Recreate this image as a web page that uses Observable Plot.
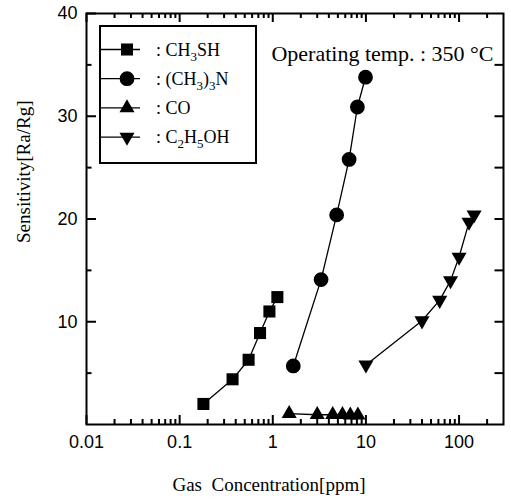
<!DOCTYPE html>
<html>
<head>
<meta charset="utf-8">
<script src="https://cdn.jsdelivr.net/npm/d3@7"></script>
<script src="https://cdn.jsdelivr.net/npm/@observablehq/plot@0.6"></script>
<style>
  html, body { margin: 0; padding: 0; background: #fff; }
</style>
</head>
<body>
<div id="chart"></div>
<script>
// ---- data ----
const seriesNames = ["CH3SH", "(CH3)3N", "CO", "C2H5OH"];
const ch3shX = [0.18, 0.37, 0.55, 0.73, 0.92, 1.12];
const ch3shY = [2.0, 4.4, 6.3, 8.9, 11.0, 12.4];
const tmaX = [1.66, 3.3, 4.85, 6.6, 8.1, 9.9];
const tmaY = [5.7, 14.1, 20.4, 25.8, 30.9, 33.8];
const coX = [1.5, 3.0, 4.4, 5.6, 6.8, 8.2];
const coY = [1.05, 0.95, 0.95, 0.95, 0.9, 0.9];
const etX = [10, 40, 62, 81, 100, 128, 145];
const etY = [5.8, 10.1, 12.1, 14.0, 16.3, 19.7, 20.4];

const xTickLabels = [0.01, 0.1, 1, 10, 100];
const xMinor = [0.02,0.03,0.04,0.05,0.06,0.07,0.08,0.09,
                0.2,0.3,0.4,0.5,0.6,0.7,0.8,0.9,
                2,3,4,5,6,7,8,9,
                20,30,40,50,60,70,80,90,200];
const yTickLabels = [10, 20, 30, 40];
const yMinor = [5, 15, 25, 35];
const yRight = [5, 10, 15, 20, 25, 30, 35];

const xTitle = "Gas\u00a0 Concentration[ppm]";
const yTitle = "Sensitivity[Ra/Rg]";
const note = "Operating temp. : 350 \u00b0C";

// ---- build table ----
const symbols = ["square", "circle", "triangle", "triangle"];
const rotations = [0, 0, 0, 180];
const xs = [ch3shX, tmaX, coX, etX];
const ys = [ch3shY, tmaY, coY, etY];
const R = {square: 6.8, circle: 7.4, triangle: 5.6};
const data = [];
seriesNames.forEach((s, i) => {
  xs[i].forEach((x, j) => data.push({series: s, x, y: ys[i][j], sym: symbols[i], rot: rotations[i], r: R[symbols[i]]}));
});

const W = 511, H = 503;
const mL = 86, mR = 8, mT = 13, mB = 79;
const iw = W - mL - mR, ih = H - mT - mB;
const xDomain = [0.01, 300], yDomain = [0, 40];
const pxPerY = ih / (yDomain[1] - yDomain[0]);
const pxPerDecade = iw / Math.log10(xDomain[1] / xDomain[0]);
const yLen = px => px / pxPerY;
const xAt = px => xDomain[0] * Math.pow(10, px / pxPerDecade);
const xAtR = px => xDomain[1] / Math.pow(10, px / pxPerDecade);

const sansFont = "'Liberation Sans', Arial, sans-serif";
const serifFont = "'Liberation Serif', 'Times New Roman', serif";
const TK = {stroke: "#000", strokeWidth: 2};

const svg = Plot.plot({
  width: W, height: H,
  marginLeft: mL, marginRight: mR, marginTop: mT, marginBottom: mB,
  x: {type: "log", domain: xDomain},
  y: {domain: yDomain},
  r: {type: "identity"},
  symbol: {domain: ["square", "circle", "triangle"], range: ["square", "circle", "triangle"]},
  marks: [
    Plot.frame({stroke: "black", strokeWidth: 2}),
    // inward ticks
    Plot.ruleX(xTickLabels, {x: d => d, y1: yDomain[0], y2: yDomain[0] + yLen(9), ...TK}),
    Plot.ruleX(xMinor, {x: d => d, y1: yDomain[0], y2: yDomain[0] + yLen(5), ...TK}),
    Plot.ruleX(xTickLabels, {x: d => d, y1: yDomain[1], y2: yDomain[1] - yLen(9), ...TK}),
    Plot.ruleX(xMinor, {x: d => d, y1: yDomain[1], y2: yDomain[1] - yLen(5), ...TK}),
    Plot.ruleY(yTickLabels, {y: d => d, x1: xDomain[0], x2: xAt(10), ...TK}),
    Plot.ruleY(yMinor, {y: d => d, x1: xDomain[0], x2: xAt(5.5), ...TK}),
    Plot.ruleY(yRight, {y: d => d, x1: xDomain[1], x2: xAtR(8.5), ...TK}),
    // tick labels
    Plot.axisX({ticks: xTickLabels, tickSize: 0, tickPadding: 11, tickFormat: d => String(d),
      label: null, fontSize: 18, fontFamily: sansFont, stroke: "black", strokeWidth: 0.35, fill: "black"}),
    Plot.axisY({ticks: yTickLabels, tickSize: 0, tickPadding: 9, tickFormat: d => String(d),
      label: null, fontSize: 18, fontFamily: sansFont, stroke: "black", strokeWidth: 0.35, fill: "black"}),
    // data
    Plot.line(data, {x: "x", y: "y", z: "series", stroke: "black", strokeWidth: 1.3}),
    Plot.dot(data, {x: "x", y: "y", symbol: "sym", rotate: "rot", r: "r", fill: "black", stroke: "none"}),
    // titles
    Plot.text([xTitle], {text: d => d, frameAnchor: "bottom", dx: -26, dy: 66,
      fontSize: 19, fontFamily: serifFont, fill: "black"}),
    Plot.text([yTitle], {text: d => d, frameAnchor: "left", dx: -63, dy: 24, rotate: -90,
      fontSize: 19, fontFamily: serifFont, fill: "black"}),
    Plot.text([note], {text: d => d, frameAnchor: "top-right", dx: -10, dy: 32, textAnchor: "end",
      fontSize: 22, fontFamily: serifFont, fill: "black"})
  ]
});

// ---- legend ----
const legendLabels = [
  [[": CH", 0], ["3", 1], ["SH", 0]],
  [[": (CH", 0], ["3", 1], [")", 0], ["3", 1], ["N", 0]],
  [[": CO", 0]],
  [[": C", 0], ["2", 1], ["H", 0], ["5", 1], ["OH", 0]]
];
const g = d3.select(svg).append("g");
const bx = 100, by = 26, bw = 156, bh = 137;
g.append("rect").attr("x", bx).attr("y", by).attr("width", bw).attr("height", bh)
  .attr("fill", "white").attr("stroke", "black").attr("stroke-width", 2);
seriesNames.forEach((s, i) => {
  const cy = 49.5 + i * 29.2;
  g.append("line").attr("x1", bx).attr("x2", 140).attr("y1", cy).attr("y2", cy)
    .attr("stroke", "black").attr("stroke-width", 1.3);
  const sym = {square: d3.symbolSquare, circle: d3.symbolCircle, triangle: d3.symbolTriangle}[symbols[i]];
  const r = R[symbols[i]];
  g.append("path").attr("d", d3.symbol(sym, Math.PI * r * r)())
    .attr("transform", `translate(127,${cy}) rotate(${rotations[i]})`)
    .attr("fill", "black");
  const t = g.append("text").attr("x", 156).attr("y", cy + 6)
    .attr("text-anchor", "start")
    .attr("font-family", serifFont).attr("font-size", 18).attr("fill", "black");
  let prevSub = 0;
  legendLabels[i].forEach(([txt, sub]) => {
    const ts = t.append("tspan").text(txt);
    const shift = (sub - prevSub) * 5;
    if (shift) ts.attr("dy", shift);
    if (sub) ts.attr("font-size", 13);
    prevSub = sub;
  });
});

document.getElementById("chart").appendChild(svg);
</script>
</body>
</html>
